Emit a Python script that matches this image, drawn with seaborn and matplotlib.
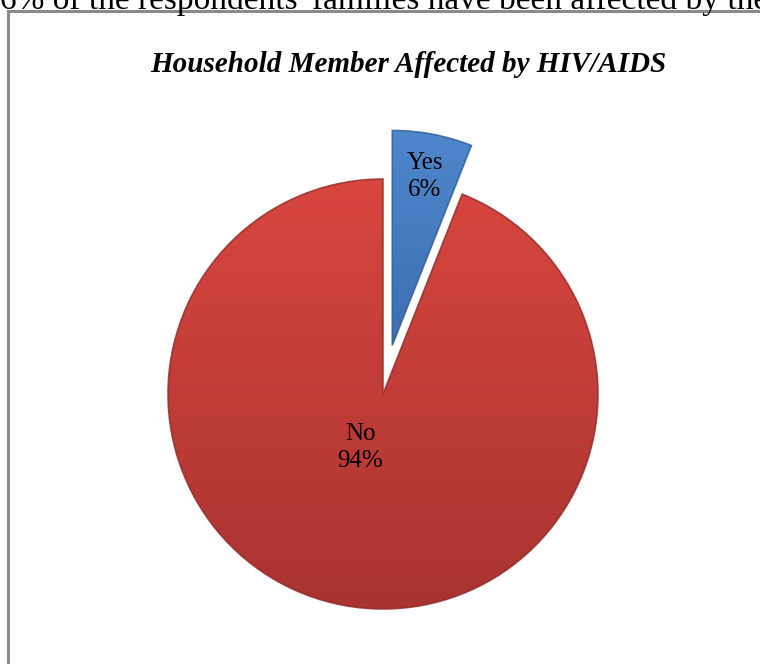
import matplotlib
matplotlib.use("Agg")
import matplotlib.pyplot as plt
import matplotlib.patches as mpatches
from matplotlib.colors import LinearSegmentedColormap
import numpy as np
import seaborn as sns

# chart data
categories = ["Yes", "No"]
shares = [6, 94]
explode = [0.23, 0.0]
label_dist = [0.80, 0.27]
label_turn = [0.0, -12.0]   # degrees, nudges label off the wedge bisector
colors = ["#467DC3", "#C9403C"]
title = "Household Member Affected by HIV/AIDS"
caption = "6% of the respondents' families have been affected by the disease."

sns.set_theme(style="white")
plt.rcParams["font.family"] = ["Liberation Serif", "DejaVu Serif"]

W, H = 760, 664
fig = plt.figure(figsize=(W / 100, H / 100), dpi=100)
fig.patch.set_facecolor("white")

# grey frame of the embedded chart (runs off right/bottom of the crop)
frame = mpatches.Rectangle((7.5 / W, -0.1), 1.2, 1.1 - 10.5 / H,
                           transform=fig.transFigure, fill=False,
                           edgecolor="#8a8a8a", lw=2.2)
fig.patches.append(frame)

# document text cut off at top, as in the screenshot
fig.text(0.0, 1 - 9 / H, caption, ha="left", va="baseline", fontsize=24,
         color="black")

fig.text(408 / W, 1 - 72 / H, title, ha="center", va="baseline",
         fontsize=21, fontweight="bold", fontstyle="italic", color="black")

# pie axes: centre at (383, 394) px, radius 215 px
R = 215
L = 1.25
S = 2 * L * R
cx, cy = 383, H - 394
ax = fig.add_axes([(cx - S / 2) / W, (cy - S / 2) / H, S / W, S / H])

wedges, _ = ax.pie(shares, explode=explode, colors=colors, startangle=90,
                   counterclock=False, radius=1,
                   wedgeprops=dict(linewidth=0),
                   shadow=dict(ox=1, oy=-4, facecolor="#9a9a9a",
                               edgecolor="none", alpha=0.35))

# soft vertical shading and darker rim, office 3D style
shades = [("#4F87CC", "#3C6FB2"), ("#D8463F", "#A93331")]
rims = ["#2E5A93", "#8E2A28"]
grad = np.linspace(0, 1, 256).reshape(-1, 1)
for w, (top, bot), rim in zip(wedges, shades, rims):
    ext = w.get_path().get_extents()
    cmap = LinearSegmentedColormap.from_list("g", [top, bot])
    im = ax.imshow(grad, cmap=cmap, aspect="auto", origin="upper",
                   extent=[ext.x0, ext.x1, ext.y0, ext.y1], zorder=1.5)
    im.set_clip_path(w)
    w.set_zorder(2)
    w.set_facecolor("none")
    w.set_edgecolor(rim)
    w.set_linewidth(1.2)
    w.set_alpha(0.8)

for w, cat, val, d, turn in zip(wedges, categories, shares, label_dist, label_turn):
    mid = np.deg2rad((w.theta1 + w.theta2) / 2 + turn)
    x0, y0 = w.center
    ax.text(x0 + d * np.cos(mid), y0 + d * np.sin(mid), f"{cat}\n{val}%",
            ha="center", va="center", fontsize=18, color="black",
            linespacing=1.3, zorder=10)

ax.set_xlim(-L, L)
ax.set_ylim(-L, L)
ax.set_aspect("equal")
ax.axis("off")

fig.savefig("out.png", dpi=100)
